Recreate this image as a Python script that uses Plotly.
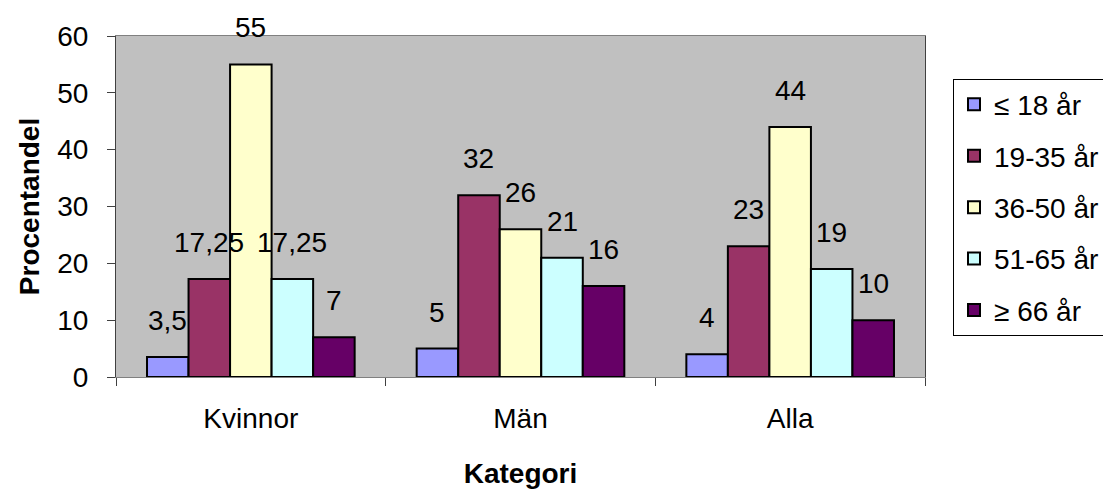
import plotly.graph_objects as go

categories = ["Kvinnor", "Män", "Alla"]
age_groups = ["≤ 18 år", "19-35 år", "36-50 år", "51-65 år", "≥ 66 år"]
share_le18 = [3.5, 5, 4]
share_19_35 = [17.25, 32, 23]
share_36_50 = [55, 26, 44]
share_51_65 = [17.25, 21, 19]
share_ge66 = [7, 16, 10]
y_ticks = [0, 10, 20, 30, 40, 50, 60]

series = [share_le18, share_19_35, share_36_50, share_51_65, share_ge66]
colors = ["#9999FF", "#993366", "#FFFFCC", "#CCFFFF", "#660066"]
FONT = "Liberation Sans, Arial, sans-serif"
FS = 28

W, H = 1103, 491
M = dict(l=116, r=178, t=36, b=114, autoexpand=False)
BARGAP = 0.23

fig = go.Figure()
for i, (name, vals, col) in enumerate(zip(age_groups, series, colors)):
    fig.add_trace(go.Bar(
        x=categories, y=vals, name=name,
        marker=dict(color=col, line=dict(color="black", width=2)),
        legendgroup=f"g{i}", hoverinfo="skip",
    ))

# value labels above each bar, shifted sideways to sit over their bar
plot_w = W - M["l"] - M["r"]
bar_px = plot_w / len(categories) * (1 - BARGAP) / len(series)
for i, vals in enumerate(series):
    shift = (i - (len(series) - 1) / 2) * bar_px
    for cat, v in zip(categories, vals):
        fig.add_annotation(
            x=cat, y=v, xref="x", yref="y", text=f"{v:g}".replace(".", ","),
            showarrow=False, yanchor="bottom", xanchor="center",
            xshift=shift, yshift=19,
            font=dict(family=FONT, size=FS, color="black"),
        )

fig.update_layout(
    width=W, height=H, margin=M,
    paper_bgcolor="white", plot_bgcolor="#C0C0C0",
    barmode="group", bargap=BARGAP, bargroupgap=0,
    font=dict(family=FONT, size=FS, color="black"),
    showlegend=True,
    legend=dict(
        x=1.0346, y=0.875, xanchor="left", yanchor="top",
        bordercolor="black", borderwidth=1, bgcolor="white",
        font=dict(family=FONT, size=FS), tracegroupgap=12,
        itemwidth=30,
    ),
    xaxis=dict(
        showline=True, linecolor="#808080", linewidth=1, mirror=True,
        ticks="outside", tickson="boundaries", ticklen=8, tickcolor="#404040",
        ticklabelstandoff=16,
        title=dict(text="<b>Kategori</b>", font=dict(size=FS), standoff=30),
    ),
    yaxis=dict(
        range=[0, 60], tickvals=y_ticks, showgrid=False, zeroline=False,
        showline=True, linecolor="#404040", linewidth=1, mirror=True,
        ticks="outside", ticklen=8, tickcolor="#404040",
        ticklabelstandoff=13,
        title=dict(text="<b>Procentandel</b>", font=dict(size=FS), standoff=9),
    ),
)

fig.write_html("out.html")
